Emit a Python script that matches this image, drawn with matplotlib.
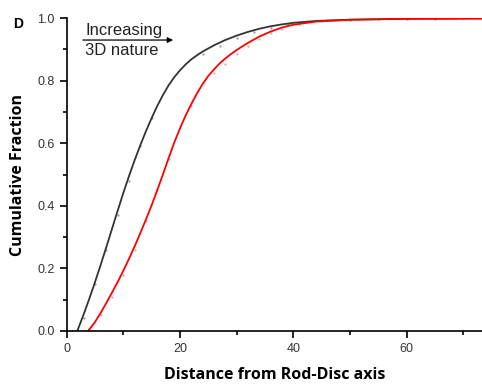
import numpy as np
import matplotlib
matplotlib.use("Agg")
import matplotlib.pyplot as plt
from matplotlib.ticker import MultipleLocator, FormatStrFormatter

# fitted cumulative curves
black_x = [1.9, 3, 4, 5, 6, 7, 8, 9, 10, 11, 12, 13, 14, 15, 16, 17, 18, 19, 20, 21, 22, 23, 24,
           26, 28, 30, 32, 34, 36, 38, 40, 44, 50, 60, 73.3]
black_y = [0.0, 0.052, 0.102, 0.155, 0.21, 0.267, 0.325, 0.383, 0.44, 0.494, 0.545, 0.593, 0.638,
           0.68, 0.719, 0.754, 0.785, 0.811, 0.833, 0.852, 0.868, 0.881, 0.893, 0.913, 0.93, 0.944,
           0.956, 0.966, 0.974, 0.98, 0.985, 0.991, 0.995, 0.998, 0.999]
red_x = [3.8, 5, 6, 7, 8, 9, 10, 11, 12, 13, 14, 15, 16, 17, 18, 19, 20, 21, 22, 23, 24, 25, 26,
         27, 28, 29, 30, 32, 34, 36, 38, 40, 44, 50, 60, 73.3]
red_y = [0.0, 0.028, 0.057, 0.089, 0.122, 0.156, 0.192, 0.23, 0.27, 0.312, 0.356, 0.401, 0.45,
         0.5, 0.552, 0.602, 0.647, 0.688, 0.725, 0.759, 0.789, 0.815, 0.836, 0.855, 0.871, 0.885,
         0.898, 0.921, 0.941, 0.957, 0.97, 0.979, 0.989, 0.995, 0.998, 0.999]

# raw data points (faint dots)
black_pts_x = [1, 3, 5, 7, 9, 11, 13, 15, 24, 27, 30, 33, 36, 39, 42, 46, 50, 55, 60, 65, 70]
black_pts_y = [0.0, 0.04, 0.15, 0.26, 0.37, 0.48, 0.59, 0.68, 0.885, 0.91, 0.935, 0.955, 0.97,
               0.98, 0.988, 0.993, 0.995, 0.997, 0.998, 0.998, 0.999]
red_pts_x = [4, 6, 8, 10, 12, 14, 16, 18, 22, 26, 28, 30, 32, 34, 36, 38, 41, 45, 50, 55, 60, 65, 70]
red_pts_y = [0.0, 0.05, 0.11, 0.18, 0.26, 0.35, 0.45, 0.55, 0.72, 0.825, 0.855, 0.885, 0.91,
             0.932, 0.952, 0.966, 0.98, 0.99, 0.995, 0.997, 0.998, 0.999, 0.999]

plt.rcParams["font.family"] = ["Liberation Sans", "DejaVu Sans"]

fig = plt.figure(figsize=(4.82, 3.86), dpi=100)
ax = fig.add_axes([0.138, 0.1425, 0.862, 0.8105])

ax.plot(black_pts_x, black_pts_y, ls="none", marker=".", ms=1.2, color="#999999")
ax.plot(red_pts_x, red_pts_y, ls="none", marker=".", ms=1.2, color="#f4a0a0")
ax.plot(black_x, black_y, color="#333333", lw=1.3, solid_joinstyle="round")
ax.plot(red_x, red_y, color="#ff0000", lw=1.3, solid_joinstyle="round")

ax.set_xlim(0, 73.3)
ax.set_ylim(0, 1.0)
ax.xaxis.set_major_locator(MultipleLocator(20))
ax.xaxis.set_minor_locator(MultipleLocator(10))
ax.yaxis.set_major_locator(MultipleLocator(0.2))
ax.yaxis.set_minor_locator(MultipleLocator(0.1))
ax.yaxis.set_major_formatter(FormatStrFormatter("%.1f"))
for s in ("top", "right"):
    ax.spines[s].set_visible(False)
for s in ("left", "bottom"):
    ax.spines[s].set_linewidth(1.2)
ax.tick_params(which="major", direction="out", length=5, width=1.2, labelsize=9, labelcolor="#333333")
ax.tick_params(which="minor", direction="out", length=3, width=1.2)

lab = dict(family=["Open Sans", "DejaVu Sans"], weight="bold", size=11.5)
ax.set_xlabel("Distance from Rod-Disc axis", labelpad=9, **lab)
ax.set_ylabel("Cumulative Fraction", labelpad=8, **lab)

ax.annotate("", xy=(19.3, 0.93), xytext=(2.4, 0.93),
            arrowprops=dict(arrowstyle="-|>", color="black", lw=0.9, mutation_scale=8))
ax.text(3.3, 0.962, "Increasing", fontsize=12, va="center", ha="left", color="#222222")
ax.text(3.3, 0.898, "3D nature", fontsize=12, va="center", ha="left", color="#222222")

fig.text(0.038, 0.938, "D", fontsize=10, weight="bold", ha="center", va="center")

fig.savefig("out.png", dpi=100)
